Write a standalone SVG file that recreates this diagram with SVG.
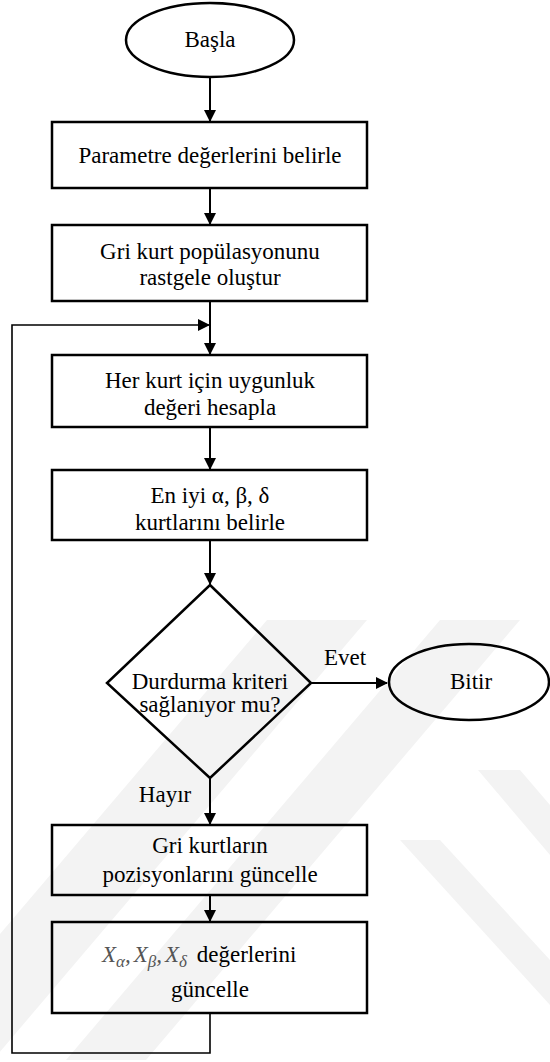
<svg xmlns="http://www.w3.org/2000/svg" width="550" height="1062" viewBox="0 0 550 1062">
<defs>
<style>
.shape{fill:none;stroke:#000;stroke-width:2.5}
.conn{fill:none;stroke:#000;stroke-width:2}
.loop{fill:none;stroke:#000;stroke-width:1.6}
.wm{fill:#f3f3f3}
</style>
<marker id="ah" viewBox="0 0 12 12" refX="11" refY="6" markerWidth="12" markerHeight="12" markerUnits="userSpaceOnUse" orient="auto">
<path d="M0,0 L12,6 L0,12 Z" fill="#000"/>
</marker>
</defs>
<rect width="550" height="1062" fill="#fff"/>
<g id="watermark">
<polygon class="wm" points="267,620 367,620 -7,1060 -107,1060"/>
<polygon class="wm" points="440,620 520,620 146,1060 66,1060"/>
<polygon class="wm" points="478,770 520,770 550,805 550,855"/>
<polygon class="wm" points="400,840 440,840 550,960 550,1005"/>
</g>
<g id="connectors">
<line class="conn" x1="210" y1="77" x2="210" y2="121" marker-end="url(#ah)"/>
<line class="conn" x1="210" y1="188" x2="210" y2="224" marker-end="url(#ah)"/>
<line class="conn" x1="210" y1="301" x2="210" y2="354" marker-end="url(#ah)"/>
<line class="conn" x1="210" y1="427" x2="210" y2="469" marker-end="url(#ah)"/>
<line class="conn" x1="210" y1="540" x2="210" y2="584" marker-end="url(#ah)"/>
<line class="conn" x1="311" y1="683" x2="387" y2="683" marker-end="url(#ah)"/>
<line class="conn" x1="210" y1="778" x2="210" y2="824" marker-end="url(#ah)"/>
<line class="conn" x1="210" y1="895" x2="210" y2="921" marker-end="url(#ah)"/>
<polyline class="loop" points="210,1013 210,1053 12,1053 12,325 209,325" marker-end="url(#ah)"/>
<text x="345" y="665" font-family="Liberation Serif" font-size="23" text-anchor="middle">Evet</text>
<text x="165" y="802" font-family="Liberation Serif" font-size="23" text-anchor="middle">Hayır</text>
</g>
<g id="start">
<ellipse class="shape" cx="210" cy="40" rx="84" ry="37"/>
<text x="210" y="47" font-family="Liberation Serif" font-size="23" text-anchor="middle">Başla</text>
</g>
<g id="params">
<rect class="shape" x="52" y="122" width="315" height="66"/>
<text x="210" y="163" font-family="Liberation Serif" font-size="23" text-anchor="middle">Parametre değerlerini belirle</text>
</g>
<g id="init">
<rect class="shape" x="52" y="225" width="315" height="76"/>
<text x="210" y="259" font-family="Liberation Serif" font-size="23" text-anchor="middle">Gri kurt popülasyonunu</text>
<text x="210" y="285" font-family="Liberation Serif" font-size="23" text-anchor="middle">rastgele oluştur</text>
</g>
<g id="fitness">
<rect class="shape" x="52" y="355" width="315" height="72"/>
<text x="210" y="388" font-family="Liberation Serif" font-size="23" text-anchor="middle">Her kurt için uygunluk</text>
<text x="210" y="415" font-family="Liberation Serif" font-size="23" text-anchor="middle">değeri hesapla</text>
</g>
<g id="best">
<rect class="shape" x="52" y="470" width="315" height="70"/>
<text x="210" y="503" font-family="Liberation Serif" font-size="23" text-anchor="middle">En iyi α, β, δ</text>
<text x="210" y="530" font-family="Liberation Serif" font-size="23" text-anchor="middle">kurtlarını belirle</text>
</g>
<g id="decision">
<polygon class="shape" points="210,585 311,683 210,778 107,683"/>
<text x="210" y="689" font-family="Liberation Serif" font-size="23" text-anchor="middle">Durdurma kriteri</text>
<text x="210" y="712" font-family="Liberation Serif" font-size="23" text-anchor="middle">sağlanıyor mu?</text>
</g>
<g id="end">
<ellipse class="shape" cx="469" cy="682" rx="80" ry="38"/>
<text x="471" y="689" font-family="Liberation Serif" font-size="23" text-anchor="middle">Bitir</text>
</g>
<g id="update-pos">
<rect class="shape" x="52" y="825" width="315" height="70"/>
<text x="210" y="853" font-family="Liberation Serif" font-size="23" text-anchor="middle">Gri kurtların</text>
<text x="210" y="882" font-family="Liberation Serif" font-size="23" text-anchor="middle">pozisyonlarını güncelle</text>
</g>
<g id="update-x">
<rect class="shape" x="52" y="922" width="315" height="91"/>
<text x="102" y="962" font-family="Liberation Serif" font-size="23"><tspan font-style="italic" fill="#555">X</tspan><tspan font-style="italic" fill="#555" font-size="17" dy="5">α</tspan><tspan font-style="italic" fill="#555" dy="-5">,</tspan><tspan font-style="italic" fill="#555" dx="3">X</tspan><tspan font-style="italic" fill="#555" font-size="17" dy="5">β</tspan><tspan font-style="italic" fill="#555" dy="-5">,</tspan><tspan font-style="italic" fill="#555" dx="3">X</tspan><tspan font-style="italic" fill="#555" font-size="17" dy="5">δ</tspan><tspan dy="-5" dx="4"> değerlerini</tspan></text>
<text x="210" y="997" font-family="Liberation Serif" font-size="23" text-anchor="middle">güncelle</text>
</g>
</svg>
